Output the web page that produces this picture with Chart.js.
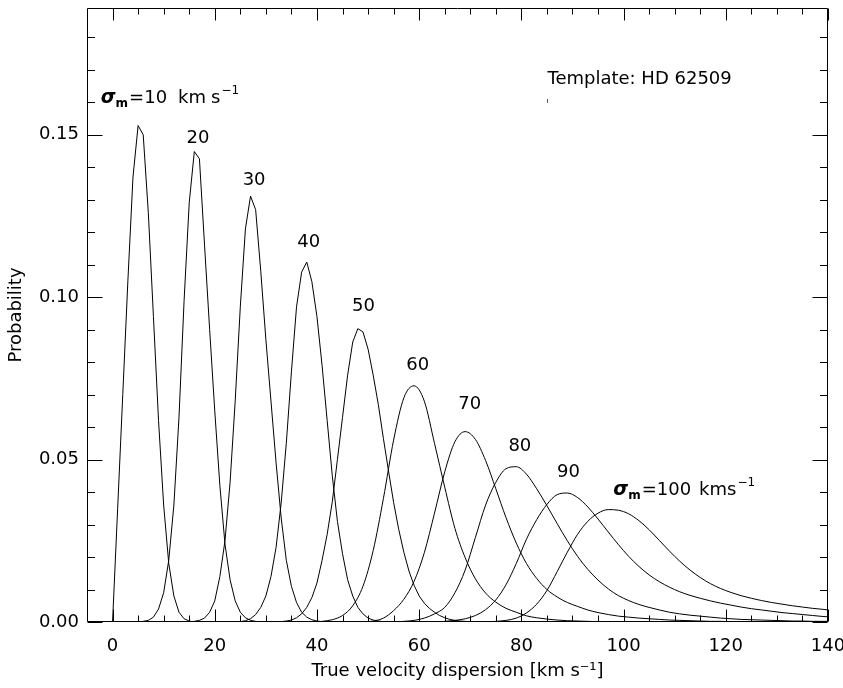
<!DOCTYPE html>
<html><head><meta charset="utf-8">
<script src="https://cdn.jsdelivr.net/npm/chart.js@4.4.1/dist/chart.umd.min.js"></script>
<style>html,body{margin:0;padding:0;background:#fff}#wrap{width:843px;height:688px}</style>
</head><body><div id="wrap"><canvas id="c" width="843" height="688"></canvas></div>
<script>
// ---- data (velocity in km/s, probability) ----
const velFine = [0,1,2,3,4,5,6,7,8,9,10,11,12,13,14,15,16,17,18,19,20,21,22,23,24,25,26,27,28,29,30,31,32,33,34,35,36,37,38,39,40,41,42,43,44,45,46,47,48,49,50,51,52,53,54,55,56,57,58,59,60,61,62,63,64,65,66,67,68,69,70];
const velCoarse = [41,43,45,47,49,51,53,55,57,59,61,63,65,67,69,71,73,75,77,79,81,83,85,87,89,91,93,95,97,99,101,103,105,107,109,111,113,115,117,119,121,123,125,127,129,131,133,135,137,139,140];

const prob10 = [0,0.035,0.070,0.105,0.137,0.1528,0.150,0.126,0.094,0.062,0.036,0.018,0.008,0.003,0.001,0.0003,
 0,0,0,0,0,0,0,0,0,0,0,0,0,0,0,0,0,0,0,0,0,0,0,0,0,0,0,0,0,0,0,0,0,0,0,0,0,0,0,0,0,0,0,0,0,0,0,0,0,0,0,0,0,0,0];
const prob20 = [0,0,0,0,0,0,0.0002,0.0005,0.0015,0.004,0.009,0.019,0.036,0.063,0.099,0.129,0.1448,0.1426,0.116,0.090,0.065,0.042,0.024,0.013,0.0065,0.003,0.0013,0.0005,0.0002,
 0,0,0,0,0,0,0,0,0,0,0,0,0,0,0,0,0,0,0,0,0,0,0,0,0,0,0,0,0,0,0,0,0,0,0,0,0,0,0,0,0,0];
const prob30 = [0,0,0,0,0,0,0,0,0,0,0,0,0,0,0,0,
 0.0002,0.0005,0.0012,0.003,0.0065,0.014,0.025,0.043,0.068,0.097,0.121,0.1311,0.1269,0.108,0.087,0.068,0.049,0.032,0.019,0.011,0.006,0.003,0.0015,0.0007,0.0003,0.0001,
 0,0,0,0,0,0,0,0,0,0,0,0,0,0,0,0,0,0,0,0,0,0,0,0,0,0,0,0,0];
const prob40 = [0,0,0,0,0,0,0,0,0,0,0,0,0,0,0,0,0,0,0,0,0,0,0,0,0,
 0.0001,0.0004,0.001,0.0023,0.0045,0.008,0.014,0.023,0.0367,0.055,0.077,0.097,0.1077,0.1108,0.1048,0.094,0.079,0.062,0.045,0.031,0.021,0.013,0.008,0.0045,0.0025,0.0012,0.0006,0.0003,0.0001,
 0,0,0,0,0,0,0,0,0,0,0,0,0,0,0,0,0];
const prob50 = [0,0,0,0,0,0,0,0,0,0,0,0,0,0,0,0,0,0,0,0,0,0,0,0,0,0,0,0,0,0,0,0,0,
 0.0001,0.0003,0.0006,0.0013,0.0025,0.0045,0.0075,0.012,0.019,0.027,0.037,0.050,0.063,0.076,0.0862,0.0903,0.0893,0.084,0.076,0.067,0.0565,0.0465,0.0368,0.0285,0.0215,0.0157,0.0113,0.0080,0.0058,0.0042,0.003,0.002,0.0013,0.0008,0.0005,0.0003,0.0002,0.0001];
const prob60 = [0.0002,0.0007,0.002,0.005,0.011,0.022,0.038,0.056,0.069,0.0727,0.068,0.055,0.0415,0.0288,0.0198,0.0133,0.0089,0.0061,0.0042,0.003,0.0019,0.0013,0.0009,0.0006,0.0004,0.0003,0.0002,0.0001,
 0,0,0,0,0,0,0,0,0,0,0,0,0,0,0,0,0,0,0,0,0,0,0];
const prob70 = [0,0,0,0,0,
 0.0003,0.0012,0.0035,0.0070,0.0125,0.0213,0.0335,0.0462,0.0555,0.0586,0.0562,0.0497,0.0410,0.0321,0.0243,0.0180,0.0134,0.0100,0.0077,0.0060,0.0048,0.0037,0.0029,0.0023,0.0018,0.0015,0.0012,0.001,0.0008,0.0006,0.0005,0.0004,0.0003,0.0002,0.0002,0.0001,0.0001,0.0001,
 0,0,0,0,0,0,0,0];
const prob80 = [0,0,0,0,0,0,0,0,
 0.0002,0.0005,0.0012,0.0025,0.0045,0.009,0.016,0.026,0.036,0.043,0.0472,0.0478,0.0455,0.041,0.0358,0.0303,0.0250,0.0202,0.0162,0.0129,0.0102,0.0081,0.0066,0.0054,0.0045,0.0037,0.003,0.0025,0.0021,0.0018,0.0015,0.0012,0.001,0.0008,0.0007,0.0006,0.0005,0.0004,0.0003,0.0003,0.0002,0.0002,0.0002];
const prob90 = [0,0,0,0,0,0,0,0,0,0,0,0,
 0.0002,0.0005,0.001,0.002,0.0038,0.0068,0.0115,0.018,0.0255,0.0315,0.0362,0.0392,0.0397,0.0383,0.0354,0.0317,0.0277,0.0238,0.0202,0.0171,0.0145,0.0124,0.0107,0.0093,0.0082,0.0073,0.0065,0.0058,0.0052,0.0046,0.0041,0.0037,0.0033,0.0029,0.0026,0.0023,0.002,0.0017,0.0016];
const prob100 = [0,0,0,0,0,0,0,0,0,0,0,0,0,0,0,0,0,
 0.0002,0.0005,0.0012,0.0028,0.0055,0.0097,0.0155,0.0215,0.027,0.031,0.0335,0.0346,0.0344,0.0333,0.0312,0.0284,0.0251,0.0218,0.0187,0.0160,0.0137,0.0118,0.0103,0.0091,0.0081,0.0073,0.0066,0.0060,0.0055,0.0050,0.0046,0.0042,0.0039,0.0037];

const xTickVals = [0,20,40,60,80,100,120,140];
const yTickVals = [0.00,0.05,0.10,0.15];

// ---- build datasets ----
function pts(vs, ps){ return vs.map((v,i)=>({x:v, y:ps[i]})); }
const seriesList = [
  [velFine,prob10],[velFine,prob20],[velFine,prob30],[velFine,prob40],[velFine,prob50],
  [velCoarse,prob60],[velCoarse,prob70],[velCoarse,prob80],[velCoarse,prob90],[velCoarse,prob100]
];
const datasets = seriesList.map(([v,p])=>({
  data: pts(v,p), borderColor:'#000', borderWidth:1, pointRadius:0, fill:false,
  tension: 0, cubicInterpolationMode: (v === velCoarse) ? 'monotone' : 'default'
}));

const FONT = 'DejaVu Sans';

function drawParts(ctx, x, y, parts){
  let cx = x;
  for (const p of parts){
    ctx.font = p.f;
    cx += (p.gap||0);
    ctx.fillText(p.t, cx, y + (p.dy||0));
    cx += ctx.measureText(p.t).width;
  }
}

function noPad(s){ s.paddingLeft = 0; s.paddingRight = 0; s.paddingTop = 0; s.paddingBottom = 0; }

const decorations = {
  id:'decorations',
  afterDraw(chart){
    const {ctx, chartArea:a, scales:{x, y}} = chart;
    ctx.save();
    ctx.strokeStyle = '#000'; ctx.lineWidth = 1;
    const L = Math.round(a.left)+0.5, R = Math.round(a.right)-0.5, T = Math.round(a.top)+0.5, B = Math.round(a.bottom)-0.5;
    ctx.beginPath();
    ctx.moveTo(L,T); ctx.lineTo(R,T); ctx.lineTo(R,B); ctx.lineTo(L,B); ctx.closePath();
    // x ticks (major every 20, minor every 5)
    for (let v = 0; v <= 140; v += 5){
      const px = Math.round(x.getPixelForValue(v)) + 0.5;
      const len = (v % 20 === 0) ? 12 : 6;
      ctx.moveTo(px, B); ctx.lineTo(px, B - len);
      ctx.moveTo(px, T); ctx.lineTo(px, T + len);
    }
    // y ticks (major every 0.05, minor every 0.01)
    for (let k = 0; k <= 18; k++){
      const v = k/100;
      const py = Math.round(y.getPixelForValue(v)) + 0.5;
      const len = (k % 5 === 0) ? 15 : 7.5;
      ctx.moveTo(L, py); ctx.lineTo(L + len, py);
      ctx.moveTo(R, py); ctx.lineTo(R - len, py);
    }
    ctx.stroke();

    // annotations
    ctx.fillStyle = '#000';
    ctx.textBaseline = 'middle'; ctx.textAlign = 'center';
    ctx.font = '18px ' + FONT;
    const nums = [['20',16.7,0.1490],['30',27.7,0.1360],['40',38.4,0.1170],['50',49.1,0.0973],
                  ['60',59.7,0.0789],['70',69.9,0.0671],['80',79.7,0.0542],['90',89.2,0.0460]];
    for (const [t,vx,vy] of nums) ctx.fillText(t, x.getPixelForValue(vx), y.getPixelForValue(vy));

    ctx.textAlign = 'left'; ctx.textBaseline = 'alphabetic';
    drawParts(ctx, x.getPixelForValue(-2.3), y.getPixelForValue(0.1597), [
      {t:'σ', f:'bold italic 19px '+FONT},
      {t:'m', f:'bold 12px '+FONT, dy:4},
      {t:'=10', f:'18px '+FONT, gap:1},
      {t:'km', f:'18px '+FONT, gap:11},
      {t:'s', f:'18px '+FONT, gap:5},
      {t:'−1', f:'12px '+FONT, dy:-9, gap:1}
    ]);
    drawParts(ctx, x.getPixelForValue(98.0), y.getPixelForValue(0.0391), [
      {t:'σ', f:'bold italic 19px '+FONT},
      {t:'m', f:'bold 12px '+FONT, dy:4},
      {t:'=100', f:'18px '+FONT, gap:1},
      {t:'kms', f:'18px '+FONT, gap:8},
      {t:'−1', f:'12px '+FONT, dy:-9, gap:1}
    ]);
    ctx.font = '18px ' + FONT;
    ctx.fillText('Template: HD 62509', x.getPixelForValue(85.1), y.getPixelForValue(0.1657));
    // small legend mark under the template text
    ctx.beginPath();
    const mx = Math.round(x.getPixelForValue(85.1)) + 0.5;
    ctx.moveTo(mx, y.getPixelForValue(0.1610)); ctx.lineTo(mx, y.getPixelForValue(0.1598));
    ctx.strokeStyle = '#555'; ctx.stroke();
    ctx.restore();
  }
};

new Chart(document.getElementById('c'), {
  type: 'line',
  data: { datasets },
  options: {
    responsive: false, animation: false, devicePixelRatio: 1, events: [],
    layout: { padding: { top: 8, right: 15, left: 0, bottom: 0 } },
    plugins: { legend: { display: false }, tooltip: { enabled: false } },
    scales: {
      x: {
        type: 'linear', min: -5, max: 140,
        grid: { display: false, drawTicks: false }, border: { display: false },
        afterBuildTicks: s => { s.ticks = xTickVals.map(v => ({ value: v })); },
        afterFit: s => { s.height = 66; noPad(s); },
        ticks: { color: '#000', font: { family: FONT, size: 18 }, padding: 14, autoSkip: false, maxRotation: 0,
                 callback: v => String(v) },
        title: { display: true, text: 'True velocity dispersion [km s⁻¹]', color: '#000',
                 font: { family: FONT, size: 18 }, padding: { top: 0, bottom: 6 } }
      },
      y: {
        type: 'linear', min: 0, max: 0.189,
        grid: { display: false, drawTicks: false }, border: { display: false },
        afterBuildTicks: s => { s.ticks = yTickVals.map(v => ({ value: v })); },
        afterFit: s => { s.width = 87; noPad(s); },
        ticks: { color: '#000', font: { family: FONT, size: 18 }, padding: 8, autoSkip: false,
                 callback: v => v.toFixed(2) },
        title: { display: true, text: 'Probability', color: '#000',
                 font: { family: FONT, size: 18 }, padding: { top: 6, bottom: 0 } }
      }
    }
  },
  plugins: [decorations]
});
</script>
</body></html>
